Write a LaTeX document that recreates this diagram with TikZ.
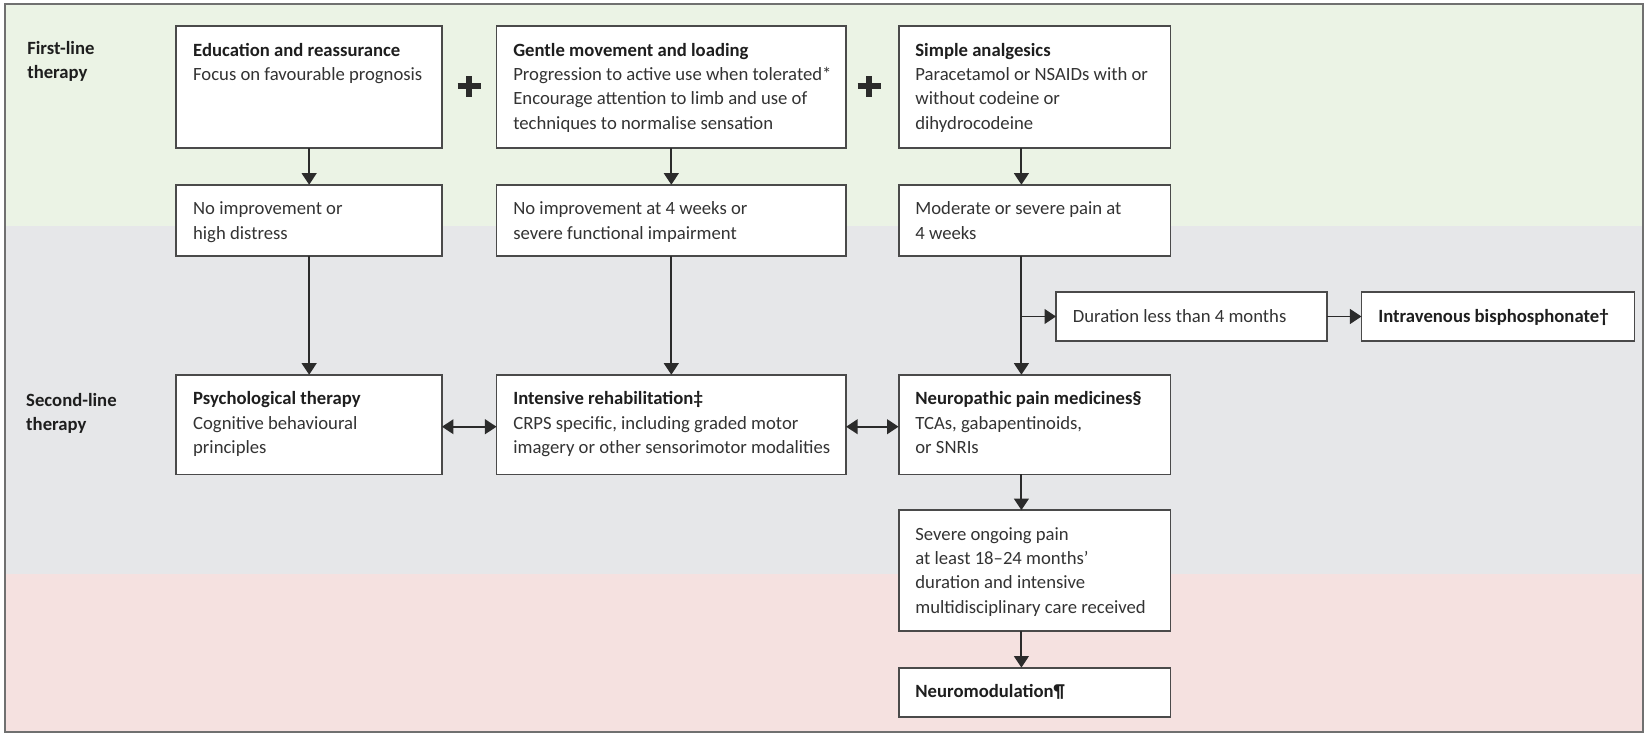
\documentclass[tikz,border=0pt]{standalone}
\usepackage{fontspec}
\setmainfont{Carlito}
\usetikzlibrary{arrows.meta}
\definecolor{bandgreen}{HTML}{EBF3E5}
\definecolor{bandgray}{HTML}{E6E7E9}
\definecolor{bandpink}{HTML}{F5E1E0}
\definecolor{framec}{HTML}{707070}
\definecolor{boxc}{HTML}{4A4A4A}
\definecolor{linec}{HTML}{2B2B2B}
\definecolor{txtc}{HTML}{333333}
\definecolor{ttlc}{HTML}{1E1E1E}
\newcommand\boxtitle[1]{\leavevmode{\color{ttlc}\bfseries #1}}
\begin{document}
\begin{tikzpicture}[x=1pt,y=-1pt,
  box/.style={draw=boxc, line width=1.8pt, fill=white, anchor=north west, inner sep=0pt, outer sep=0pt},
  txt/.style={anchor=base west, inner sep=0pt, outer sep=0pt, text=txtc, font=\fontsize{17.8pt}{23.2pt}\selectfont},
  arr/.style={draw=linec, line width=1.8pt, -{Triangle[length=11pt,width=14pt]}},
  darr/.style={draw=linec, line width=1.8pt, {Triangle[length=11pt,width=14pt]}-{Triangle[length=11pt,width=14pt]}},
  plus/.style={draw=linec, line width=5.5pt}
]
\useasboundingbox (0,0) rectangle (1568,700);
% bands
\fill[bandgreen] (5,4) rectangle (1565,215);
\fill[bandgray] (5,215) rectangle (1565,547);
\fill[bandpink] (5,547) rectangle (1565,697);
\draw[framec, line width=2pt] (5,4) rectangle (1565,697);

% row labels
\node[txt] (L1) at (26,52) {\parbox[t]{120pt}{\raggedright\boxtitle{First-line\\therapy}}};
\node[txt] (L2) at (25,387) {\parbox[t]{120pt}{\raggedright\boxtitle{Second-line\\therapy}}};

% boxes
\node[box, minimum width=253pt, minimum height=116pt] (A) at (168,25) {};
\node[box, minimum width=333pt, minimum height=116pt] (B) at (473,25) {};
\node[box, minimum width=259pt, minimum height=116pt] (C) at (856,25) {};
\node[box, minimum width=253pt, minimum height=68pt] (A2) at (168,176) {};
\node[box, minimum width=333pt, minimum height=68pt] (B2) at (473,176) {};
\node[box, minimum width=259pt, minimum height=68pt] (C2) at (856,176) {};
\node[box, minimum width=258pt, minimum height=47pt] (D) at (1006,278) {};
\node[box, minimum width=260pt, minimum height=47pt] (E) at (1297,278) {};
\node[box, minimum width=253pt, minimum height=95pt] (F) at (168,357) {};
\node[box, minimum width=333pt, minimum height=95pt] (G) at (473,357) {};
\node[box, minimum width=259pt, minimum height=95pt] (H) at (856,357) {};
\node[box, minimum width=259pt, minimum height=115pt] (I) at (856,486) {};
\node[box, minimum width=259pt, minimum height=47pt] (J) at (856,636) {};

% texts
\node[txt] (At) at ([shift={(16,28.5)}]A.north west) {\parbox[t]{240pt}{\raggedright\boxtitle{Education and reassurance}\\Focus on favourable prognosis}};
\node[txt] (Bt) at ([shift={(16,28.5)}]B.north west) {\parbox[t]{320pt}{\raggedright\boxtitle{Gentle movement and loading}\\Progression to active use when tolerated*\\Encourage attention to limb and use of\\techniques to normalise sensation}};
\node[txt] (Ct) at ([shift={(16,28.5)}]C.north west) {\parbox[t]{245pt}{\raggedright\boxtitle{Simple analgesics}\\Paracetamol or NSAIDs with or\\without codeine or\\dihydrocodeine}};
\node[txt] (A2t) at ([shift={(16,28.5)}]A2.north west) {\parbox[t]{240pt}{\raggedright No improvement or\\high distress}};
\node[txt] (B2t) at ([shift={(16,28.5)}]B2.north west) {\parbox[t]{320pt}{\raggedright No improvement at 4 weeks or\\severe functional impairment}};
\node[txt] (C2t) at ([shift={(16,28.5)}]C2.north west) {\parbox[t]{245pt}{\raggedright Moderate or severe pain at\\4 weeks}};
\node[txt] (Dt) at ([shift={(16,29)}]D.north west) {Duration less than 4 months};
\node[txt] (Et) at ([shift={(16,29)}]E.north west) {\boxtitle{Intravenous bisphosphonate†}};
\node[txt] (Ft) at ([shift={(16,28.5)}]F.north west) {\parbox[t]{240pt}{\raggedright\boxtitle{Psychological therapy}\\Cognitive behavioural\\principles}};
\node[txt] (Gt) at ([shift={(16,28.5)}]G.north west) {\parbox[t]{320pt}{\raggedright\boxtitle{Intensive rehabilitation‡}\\CRPS specific, including graded motor\\imagery or other sensorimotor modalities}};
\node[txt] (Ht) at ([shift={(16,28.5)}]H.north west) {\parbox[t]{245pt}{\raggedright\boxtitle{Neuropathic pain medicines§}\\TCAs, gabapentinoids,\\or SNRIs}};
\node[txt] (It) at ([shift={(16,28.5)}]I.north west) {\parbox[t]{245pt}{\raggedright Severe ongoing pain\\at least 18–24 months’\\duration and intensive\\multidisciplinary care received}};
\node[txt] (Jt) at ([shift={(16,28.5)}]J.north west) {\boxtitle{Neuromodulation¶}};

% plus signs
\coordinate (P1) at (447,82);
\coordinate (P2) at (828,82);
\draw[plus] ([xshift=-11pt]P1) -- ([xshift=11pt]P1);
\draw[plus] ([yshift=-10pt]P1) -- ([yshift=10pt]P1);
\draw[plus] ([xshift=-11pt]P2) -- ([xshift=11pt]P2);
\draw[plus] ([yshift=-10pt]P2) -- ([yshift=10pt]P2);

% connectors
\coordinate (c3) at (973,0);
\draw[arr] (A.south) -- (A2.north);
\draw[arr] (B.south) -- (B2.north);
\draw[arr] (C.south -| c3) -- (C2.north -| c3);
\draw[arr] (A2.south) -- (F.north);
\draw[arr] (B2.south) -- (G.north);
\draw[arr] (C2.south -| c3) -- (H.north -| c3);
\draw[arr] (D.west -| c3) -- (D.west);
\draw[arr] (D.east) -- (E.west);
\draw[darr] ([yshift=-2pt]F.east) -- ([yshift=-2pt]G.west);
\draw[darr] ([yshift=-2pt]G.east) -- ([yshift=-2pt]H.west);
\draw[arr] (H.south -| c3) -- (I.north -| c3);
\draw[arr] (I.south -| c3) -- (J.north -| c3);
\end{tikzpicture}
\end{document}
